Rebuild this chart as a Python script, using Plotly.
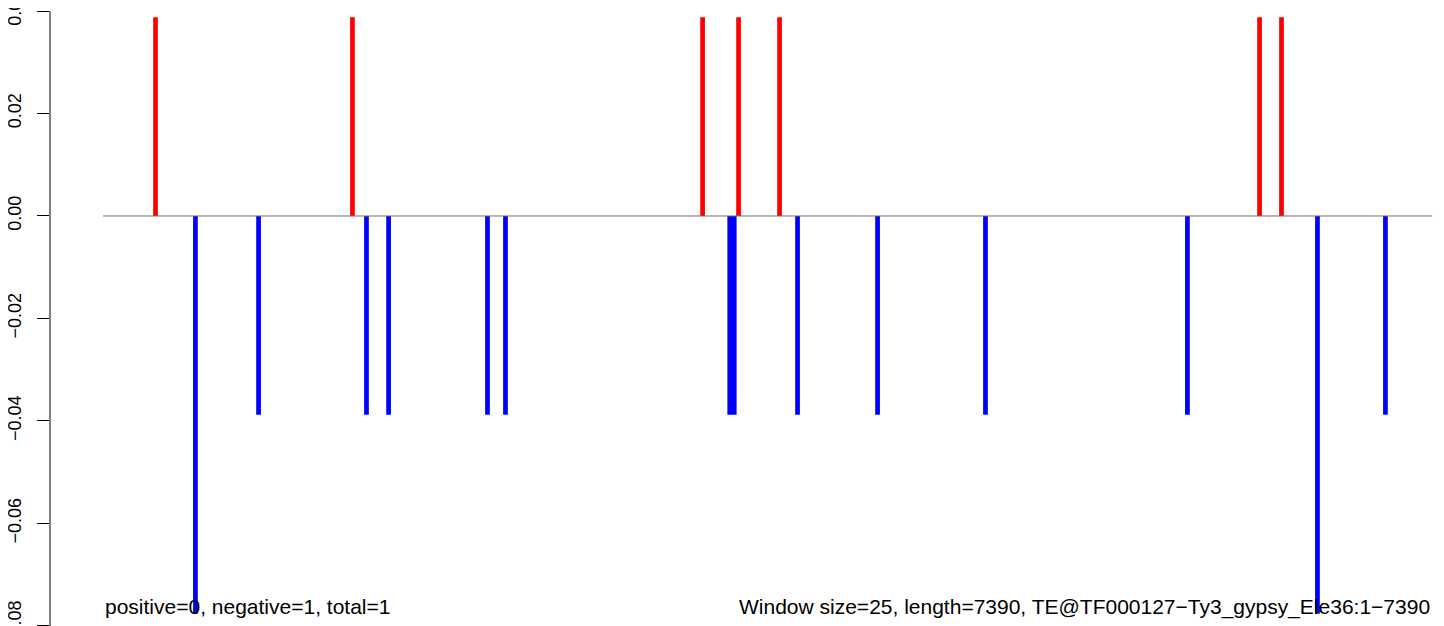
import plotly.graph_objects as go

# Data
pos_x = [292, 1387, 3334, 3534, 3762, 6431, 6553]
pos_y = [0.0388] * 7
neg_x = [514, 865, 1465, 1588, 2138, 2238, 3485, 3510, 3862, 4307, 4907, 6030, 6753, 7131]
neg_y = [-0.0776, -0.0388, -0.0388, -0.0388, -0.0388, -0.0388, -0.0388, -0.0388,
         -0.0388, -0.0388, -0.0388, -0.0388, -0.0776, -0.0388]
seq_length = 7390
window = 25
y_ticks = [0.04, 0.02, 0.00, -0.02, -0.04, -0.06, -0.08]
y_tick_text = ["0.04", "0.02", "0.00", "\u22120.02", "\u22120.04", "\u22120.06", "\u22120.08"]
left_label = "positive=0, negative=1, total=1"
right_label = "Window size=25, length=7390, TE@TF000127\u2212Ty3_gypsy_Ele36:1\u22127390"

FONT = "Liberation Sans, Arial, sans-serif"
bar_w = window * 1.05

fig = go.Figure()
fig.add_trace(go.Bar(x=pos_x, y=pos_y, width=bar_w, marker=dict(color="#FF0000", line=dict(width=0)),
                     showlegend=False))
fig.add_trace(go.Bar(x=neg_x, y=neg_y, width=bar_w, marker=dict(color="#0000FF", line=dict(width=0)),
                     showlegend=False))
fig.add_trace(go.Scatter(x=[0, seq_length], y=[0, 0], mode="lines",
                         line=dict(color="#707070", width=1), showlegend=False, hoverinfo="skip"))

# y axis line from first to last tick (R style)
fig.add_shape(type="line", xref="paper", x0=0, x1=0, yref="y", y0=y_ticks[-1], y1=y_ticks[0],
              line=dict(color="black", width=1))

fig.add_annotation(x=0, y=0.031, xref="x", yref="paper", text=left_label, showarrow=False,
                   xanchor="left", yanchor="middle", font=dict(family=FONT, size=21, color="black"))
fig.add_annotation(x=seq_length, y=0.031, xref="x", yref="paper", text=right_label, showarrow=False,
                   xanchor="right", yanchor="middle", font=dict(family=FONT, size=21, color="black"))

fig.update_layout(
    width=1436, height=618,
    margin=dict(l=42, r=0, t=0, b=0, autoexpand=False),
    paper_bgcolor="white", plot_bgcolor="white",
    barmode="overlay",
    xaxis=dict(range=[-294.7, 7456.6], visible=False, showgrid=False, zeroline=False,
               automargin=False),
    yaxis=dict(range=[-0.08001, 0.040585], tickvals=y_ticks, ticktext=y_tick_text,
               tickangle=-90, ticks="outside", ticklen=12, tickcolor="black", tickwidth=1,
               showline=False, showgrid=False, zeroline=False, ticklabelstandoff=9,
               ticklabeloverflow="allow", automargin=False,
               tickfont=dict(family=FONT, size=18, color="black")),
    font=dict(family=FONT, size=16, color="black"),
)

fig.write_html("out.html")
